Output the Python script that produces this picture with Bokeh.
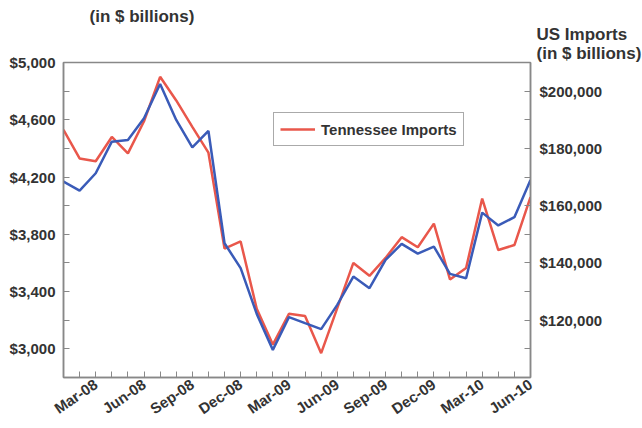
from bokeh.plotting import figure
from bokeh.models import (Range1d, LinearAxis, FixedTicker, NumeralTickFormatter,
                          Title, Legend, LegendItem)
from bokeh.embed import file_html
from bokeh.resources import INLINE

# ---- data ----
months = ["Jan-08", "Feb-08", "Mar-08", "Apr-08", "May-08", "Jun-08", "Jul-08", "Aug-08",
          "Sep-08", "Oct-08", "Nov-08", "Dec-08", "Jan-09", "Feb-09", "Mar-09", "Apr-09",
          "May-09", "Jun-09", "Jul-09", "Aug-09", "Sep-09", "Oct-09", "Nov-09", "Dec-09",
          "Jan-10", "Feb-10", "Mar-10", "Apr-10", "May-10", "Jun-10"]
tn_imports = [4530, 4330, 4310, 4480, 4365, 4590, 4900, 4735, 4550, 4370,
              3700, 3750, 3280, 3030, 3245, 3230, 2970, 3285, 3600, 3510,
              3635, 3780, 3710, 3875, 3485, 3565, 4050, 3690, 3725, 4060]
us_imports = [168400, 165250, 171330, 182360, 182950, 190530, 202500, 189930, 180400, 186090,
              146890, 138170, 122220, 109650, 121070, 118970, 116910, 125360, 135240, 131190,
              141070, 146650, 143260, 145710, 136180, 134680, 157580, 153100, 155970, 168990]
x_label_months = ["Mar-08", "Jun-08", "Sep-08", "Dec-08", "Mar-09", "Jun-09",
                  "Sep-09", "Dec-09", "Mar-10", "Jun-10"]
left_ticks = [3000, 3400, 3800, 4200, 4600, 5000]
left_minor = [2800, 3200, 3600, 4000, 4400, 4800]
right_ticks = [120000, 140000, 160000, 180000, 200000]
right_minor = [100000, 110000, 130000, 150000, 170000, 190000, 210000]

FONT = "Liberation Sans"
TXT = "#333333"
GRAY = "#888888"
RED = "#E9574B"
BLUE = "#3A5BB8"

idx = list(range(len(months)))
major_x = [months.index(m) for m in x_label_months]
minor_x = [i for i in idx if i not in major_x]

p = figure(width=642, height=428, output_backend="svg", toolbar_location=None,
           x_range=Range1d(0, len(months) - 1), y_range=Range1d(2800, 5000),
           min_border_left=63, min_border_right=112, min_border_top=62, min_border_bottom=51)
p.title.visible = False
p.extra_y_ranges = {"us": Range1d(100000, 210000)}
p.xgrid.visible = False
p.ygrid.visible = False
p.outline_line_color = GRAY
p.outline_line_width = 1.5
p.background_fill_color = "white"
p.border_fill_color = "white"

r_tn = p.line(idx, tn_imports, line_color=RED, line_width=2.5)
r_us = p.line(idx, us_imports, line_color=BLUE, line_width=2.5, y_range_name="us")

def style_axis(ax):
    ax.axis_line_color = GRAY
    ax.axis_line_width = 1.5
    ax.major_tick_line_color = GRAY
    ax.minor_tick_line_color = GRAY
    ax.major_tick_in = 6
    ax.major_tick_out = 0
    ax.minor_tick_in = 6
    ax.minor_tick_out = 0
    ax.major_label_text_font = FONT
    ax.major_label_text_font_style = "bold"
    ax.major_label_text_font_size = "15px"
    ax.major_label_text_color = TXT

# x axis
xa = p.xaxis[0]
xa.ticker = FixedTicker(ticks=major_x, minor_ticks=minor_x)
xa.major_label_overrides = {i: months[i] for i in major_x}
xa.major_label_orientation = 0.6
xa.major_label_standoff = 5
style_axis(xa)

# left axis
ya = p.yaxis[0]
ya.ticker = FixedTicker(ticks=left_ticks, minor_ticks=left_minor)
ya.formatter = NumeralTickFormatter(format="$0,0")
ya.major_label_standoff = 8
style_axis(ya)

# right axis
ra = LinearAxis(y_range_name="us",
                ticker=FixedTicker(ticks=right_ticks, minor_ticks=right_minor),
                formatter=NumeralTickFormatter(format="$0,0"))
ra.major_label_standoff = 9
style_axis(ra)
p.add_layout(ra, "right")

# titles stacked in the top panel (first added sits closest to the frame)
def add_title(txt, offset, standoff):
    p.add_layout(Title(text=txt, align="left", offset=offset, standoff=standoff,
                       text_font=FONT, text_font_style="bold", text_font_size="17px",
                       text_color=TXT), "above")

add_title("(in $ billions)", 473, -1)
add_title("US Imports", 473, -2)
add_title("(in $ billions)", 26, -4)

legend = Legend(items=[LegendItem(label="Tennessee Imports", renderers=[r_tn])],
                location=(210, 231))
legend.border_line_color = "#555555"
legend.border_line_width = 1.5
legend.label_text_font = FONT
legend.label_text_font_style = "bold"
legend.label_text_font_size = "15px"
legend.label_text_color = TXT
legend.padding = 6
legend.margin = 0
legend.glyph_width = 35
legend.label_standoff = 6
legend.background_fill_alpha = 1.0
p.add_layout(legend)

open("out.html", "w").write(file_html(p, INLINE))
